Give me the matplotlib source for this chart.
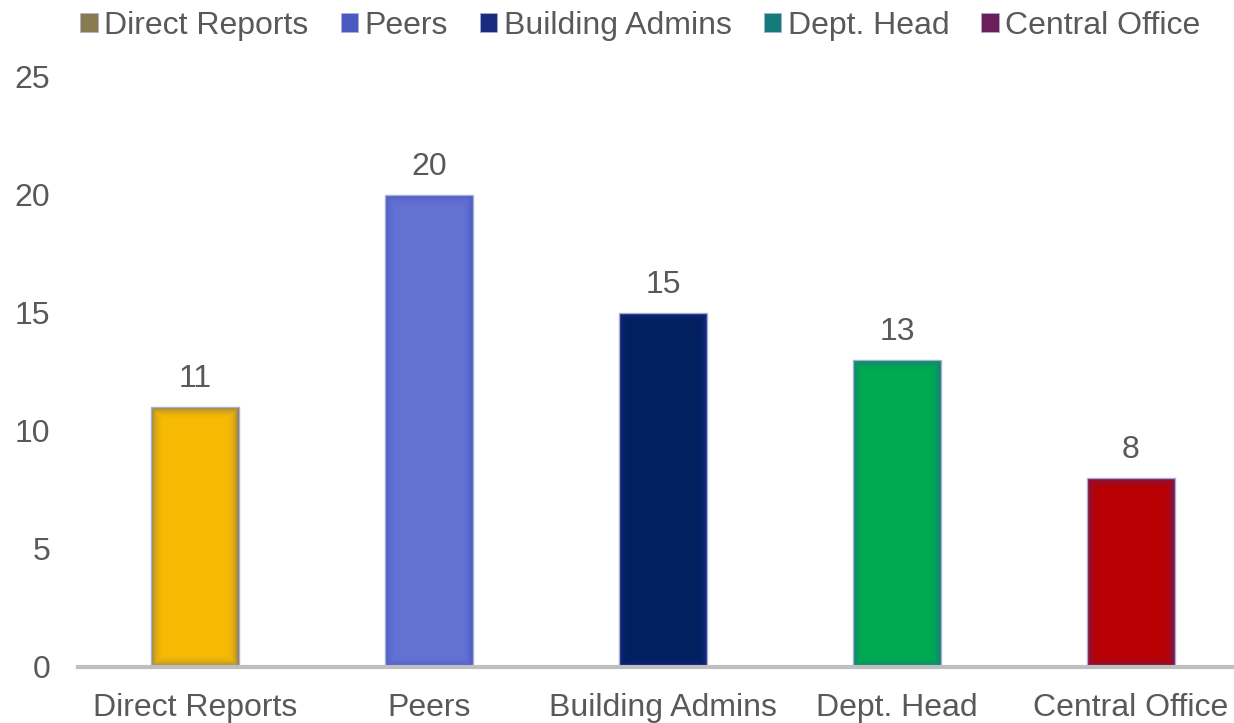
import matplotlib.pyplot as plt
from matplotlib.patches import Patch

categories = ['Direct Reports', 'Peers', 'Building Admins', 'Dept. Head', 'Central Office']
values = [11, 20, 15, 13, 8]
bar_colors = ['#FFC000', '#6675D6', '#002060', '#00B050', '#C00000']
glow_colors = ['#8A7A50', '#4A5AC0', '#1A2A80', '#157A7A', '#6B1E5A']

plt.rcParams['font.family'] = ['Liberation Sans', 'DejaVu Sans']
text_color = '#595959'

fig = plt.figure(figsize=(12.34, 7.23), dpi=100)
ax = fig.add_axes([78 / 1234, 56 / 723, 1170 / 1234, 590 / 723])

x = range(len(categories))
width = 0.38
px_x = width / 89      # one pixel in x data units
px_y = 25 / 590        # one pixel in y data units

# base bar in the glow colour, then inset layers of the face colour for a soft inner glow
ax.bar(x, values, width=width, color=glow_colors, edgecolor='#A8B0D8', linewidth=1, zorder=2)
for j in range(1, 13):
    for i, v in enumerate(values):
        ax.bar(i, v - 2 * j * px_y, bottom=j * px_y, width=width - 2 * j * px_x,
               color=bar_colors[i], alpha=0.22, linewidth=0, zorder=3)

for i, v in enumerate(values):
    ax.text(i, v + 0.55, str(v), ha='center', va='bottom', fontsize=23, color=text_color)

ax.set_xlim(-0.5, 4.5)
ax.set_ylim(0, 25)
ax.set_yticks([0, 5, 10, 15, 20, 25])
ax.set_xticks(list(x))
ax.set_xticklabels(categories)
ax.tick_params(axis='both', length=0, labelsize=23, colors=text_color)
ax.tick_params(axis='y', pad=20)
ax.tick_params(axis='x', pad=19)
for s in ['top', 'right', 'left']:
    ax.spines[s].set_visible(False)
ax.spines['bottom'].set_color('#BFBFBF')
ax.spines['bottom'].set_linewidth(3)
ax.spines['bottom'].set_zorder(4)

handles = [Patch(facecolor=c, edgecolor='#A8B0D8', linewidth=0.5) for c in glow_colors]
fig.legend(handles, categories, loc='upper center', bbox_to_anchor=(0.519, 1.025), ncol=5,
           frameon=False, fontsize=23, labelcolor=text_color, handlelength=0.55,
           handleheight=0.55, handletextpad=0.2, columnspacing=1.0)

fig.savefig('out.png', dpi=100)
